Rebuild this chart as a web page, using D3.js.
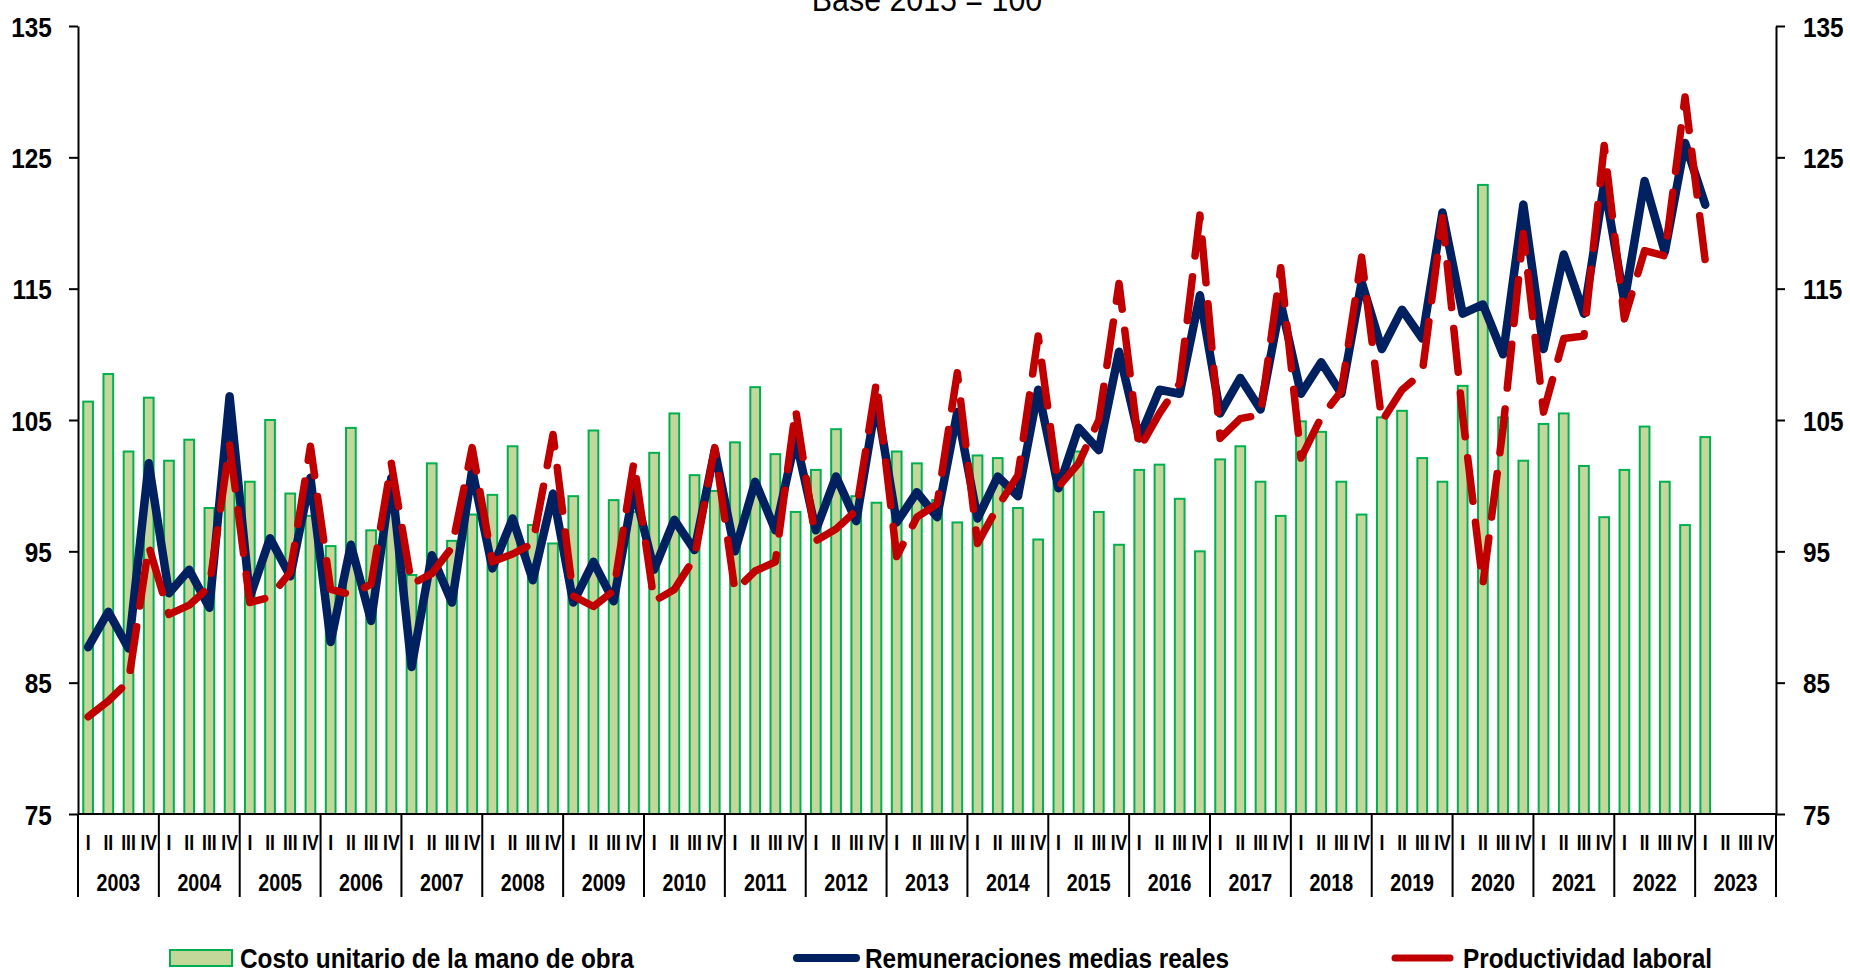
<!DOCTYPE html>
<html>
<head>
<meta charset="utf-8">
<script src="https://cdn.jsdelivr.net/npm/d3@7"></script>
<style>
body { margin: 0; background: #fff; }
text { font-family: "Liberation Sans", Arial, sans-serif; }
</style>
</head>
<body>
<div id="chart"></div>
<script>
// Data: quarterly index, base 2015 = 100 (2003-I .. 2023-I)
const years = ["2003","2004","2005","2006","2007","2008","2009","2010","2011","2012","2013",
               "2014","2015","2016","2017","2018","2019","2020","2021","2022","2023"];
const quarterNames = ["I", "II", "III", "IV"];
const yTicks = [75, 85, 95, 105, 115, 125, 135];

const costo = [
    106.4, 108.5, 102.6, 106.7,   // 2003
    101.9, 103.5, 98.3, 103.5,    // 2004
    100.3, 105.0, 99.4, 97.7,     // 2005
    95.4, 104.4, 96.6, 98.9,      // 2006
    93.2, 101.7, 95.8, 97.8,      // 2007
    99.3, 103.0, 97.0, 95.6,      // 2008
    99.2, 104.2, 98.9, 98.0,      // 2009
    102.5, 105.5, 100.8, 99.6,    // 2010
    103.3, 107.5, 102.4, 98.0,    // 2011
    101.2, 104.3, 99.2, 98.7,     // 2012
    102.6, 101.7, 98.9, 97.2,     // 2013
    102.3, 102.1, 98.3, 95.9,     // 2014
    100.2, 102.6, 98.0, 95.5,     // 2015
    101.2, 101.6, 99.0, 95.0,     // 2016
    102.0, 103.0, 100.3, 97.7,    // 2017
    104.9, 104.1, 100.3, 97.8,    // 2018
    105.2, 105.7, 102.1, 100.3,   // 2019
    107.6, 122.9, 105.2, 101.9,   // 2020
    104.7, 105.5, 101.5, 97.6,    // 2021
    101.2, 104.5, 100.3, 97.0,    // 2022
    103.7                         // 2023
];

const remuneraciones = [
    87.7, 90.4, 87.6, 101.7,
    91.8, 93.6, 90.7, 106.8,
    91.5, 96.0, 93.1, 100.6,
    88.1, 95.5, 89.7, 100.6,
    86.2, 94.7, 91.1, 101.2,
    93.7, 97.5, 92.8, 99.4,
    91.1, 94.2, 91.2, 99.8,
    93.6, 97.4, 95.1, 102.7,
    95.0, 100.3, 96.6, 103.6,
    96.6, 100.7, 97.3, 106.5,
    97.2, 99.5, 97.6, 105.6,
    97.5, 100.7, 99.2, 107.3,
    99.8, 104.4, 102.7, 110.2,
    103.6, 107.3, 107.0, 114.5,
    105.5, 108.2, 105.8, 113.9,
    107.0, 109.4, 107.0, 115.5,
    110.4, 113.4, 111.2, 120.8,
    113.1, 113.8, 110.0, 121.4,
    110.4, 117.6, 113.1, 123.0,
    114.0, 123.2, 117.8, 126.1,
    121.4
];

const productividad = [
    82.4, 83.6, 85.1, 95.4,
    90.2, 90.9, 92.3, 103.1,
    91.1, 91.5, 93.4, 103.0,
    92.1, 91.7, 92.5, 101.7,
    92.5, 93.3, 95.3, 102.9,
    94.2, 94.8, 95.6, 103.9,
    91.6, 90.8, 92.0, 101.8,
    91.2, 92.1, 94.5, 102.9,
    92.0, 93.5, 94.2, 105.8,
    95.8, 96.7, 98.1, 107.9,
    94.6, 97.6, 98.6, 108.6,
    95.6, 98.4, 100.8, 111.4,
    99.9, 101.7, 105.0, 115.4,
    102.8, 105.5, 107.8, 120.6,
    103.6, 105.1, 105.4, 116.6,
    102.1, 105.2, 107.2, 117.4,
    104.9, 107.3, 108.6, 120.4,
    105.3, 92.5, 104.4, 119.2,
    105.6, 111.2, 111.4, 125.9,
    112.7, 117.9, 117.5, 129.6,
    117.1
];

const width = 1850, height = 973;
const plotLeft = 78, plotRight = 1776, plotTop = 26, plotBottom = 814, axisEnd = 897;
const condense = 0.87;

const svg = d3.select("#chart")
    .append("svg")
    .attr("width", width)
    .attr("height", height);

const slots = years.flatMap(yr => quarterNames.map(q => yr + "-" + q));

const x = d3.scaleBand()
    .domain(slots)
    .range([plotLeft, plotRight])
    .paddingInner(0.52)
    .paddingOuter(0.26);

const y = d3.scaleLinear()
    .domain([75, 135])
    .range([plotBottom, plotTop]);

const cx = i => x(slots[i]) + x.bandwidth() / 2;

// helper for the narrow bold lettering of the original
function addText(g, str, px, py, size, anchor, weight, sx) {
    return g.append("text")
        .attr("transform", `translate(${px},${py}) scale(${sx},1)`)
        .attr("text-anchor", anchor)
        .style("font-size", size + "px")
        .style("font-weight", weight)
        .style("fill", "#000")
        .text(str);
}

// Title (cut at the top of the frame, as in the source)
addText(svg, "Base 2015 = 100", 927, 11, 33, "middle", "normal", 0.92);

// Bars
svg.append("g")
    .selectAll("rect")
    .data(costo)
    .join("rect")
    .attr("x", (d, i) => x(slots[i]))
    .attr("y", d => y(d))
    .attr("width", x.bandwidth())
    .attr("height", d => y(75) - y(d))
    .attr("fill", "#C4D79B")
    .attr("stroke", "#00B050")
    .attr("stroke-width", 2);

// Lines
const lineGen = d3.line()
    .x((d, i) => cx(i))
    .y(d => y(d));

svg.append("path")
    .datum(remuneraciones)
    .attr("d", lineGen)
    .attr("fill", "none")
    .attr("stroke", "#002060")
    .attr("stroke-width", 8.5)
    .attr("stroke-linejoin", "round")
    .attr("stroke-linecap", "round");

svg.append("path")
    .datum(productividad)
    .attr("d", lineGen)
    .attr("fill", "none")
    .attr("stroke", "#C00000")
    .attr("stroke-width", 7.5)
    .attr("stroke-dasharray", "44,21")
    .attr("stroke-linejoin", "round")
    .attr("stroke-linecap", "round");

// Y axes
const leftAxis = svg.append("g")
    .attr("transform", `translate(${plotLeft},0)`)
    .call(d3.axisLeft(y).tickValues(yTicks).tickSize(9).tickSizeOuter(0).tickPadding(21).tickFormat(d3.format("d")));

const rightAxis = svg.append("g")
    .attr("transform", `translate(${plotRight},0)`)
    .call(d3.axisRight(y).tickValues(yTicks).tickSize(9).tickSizeOuter(0).tickPadding(22).tickFormat(d3.format("d")));

[leftAxis, rightAxis].forEach(g => {
    g.select(".domain").attr("stroke", "#000").attr("stroke-width", 2);
    g.selectAll(".tick line").attr("stroke", "#000").attr("stroke-width", 2);
    g.selectAll(".tick text")
        .attr("dy", "0.36em")
        .attr("transform", `scale(${condense},1)`)
        .style("font-family", "'Liberation Sans', Arial, sans-serif")
        .style("font-size", "28px")
        .style("font-weight", "bold")
        .attr("fill", "#000");
});

// Category axis: baseline, axis extensions, year separators
const cat = svg.append("g");
cat.append("line")
    .attr("x1", plotLeft).attr("x2", plotRight)
    .attr("y1", plotBottom).attr("y2", plotBottom)
    .attr("stroke", "#000").attr("stroke-width", 2);

const bounds = d3.range(0, years.length + 1).map(k =>
    k < years.length ? x(slots[k * 4]) - (x.step() - x.bandwidth()) / 2 : plotRight);

cat.selectAll(".sep")
    .data(bounds)
    .join("line")
    .attr("class", "sep")
    .attr("x1", d => d).attr("x2", d => d)
    .attr("y1", plotBottom).attr("y2", axisEnd)
    .attr("stroke", "#000").attr("stroke-width", 2);

slots.forEach((s, i) => {
    addText(cat, quarterNames[i % 4], cx(i), 850, 22, "middle", "bold", 0.8);
});

years.forEach((yr, k) => {
    const mid = (bounds[k] + bounds[k + 1]) / 2;
    addText(cat, yr, mid, 891, 24, "middle", "bold", 0.82);
});

// Legend
const legend = svg.append("g");
legend.append("rect")
    .attr("x", 170).attr("y", 950)
    .attr("width", 62).attr("height", 16)
    .attr("fill", "#C4D79B").attr("stroke", "#00B050").attr("stroke-width", 2);
addText(legend, "Costo unitario de la mano de obra", 240, 968, 28, "start", "bold", condense);

legend.append("line")
    .attr("x1", 797).attr("x2", 856).attr("y1", 958).attr("y2", 958)
    .attr("stroke", "#002060").attr("stroke-width", 8).attr("stroke-linecap", "round");
addText(legend, "Remuneraciones medias reales", 865, 968, 28, "start", "bold", condense);

legend.append("line")
    .attr("x1", 1395).attr("x2", 1450).attr("y1", 958).attr("y2", 958)
    .attr("stroke", "#C00000").attr("stroke-width", 7).attr("stroke-linecap", "round");
addText(legend, "Productividad laboral", 1463, 968, 28, "start", "bold", condense);
</script>
</body>
</html>
